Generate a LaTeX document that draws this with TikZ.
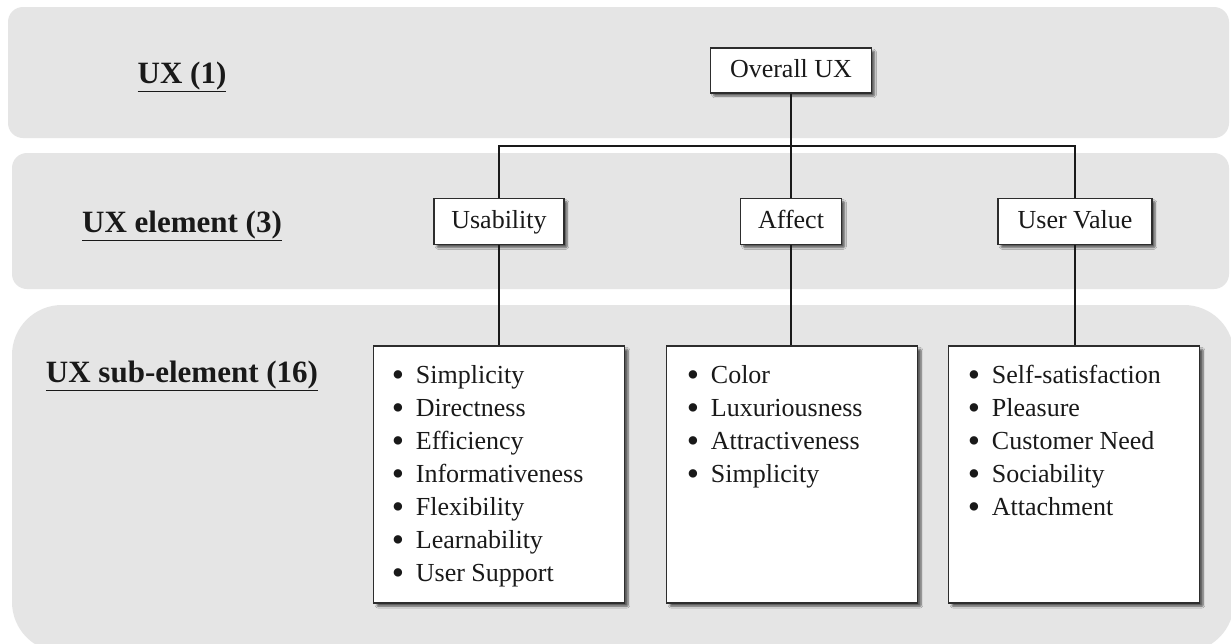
\documentclass[tikz,border=0pt]{standalone}
\usepackage{fontspec}
\setmainfont{Liberation Serif}
\usetikzlibrary{calc,shadows.blur}

\definecolor{bandgray}{RGB}{229,229,229}
\definecolor{edgegray}{RGB}{45,45,45}
\definecolor{inkblack}{RGB}{25,25,25}

\tikzset{
  band/.style={fill=bandgray, draw=none},
  levellabel/.style={font=\fontsize{31}{36}\selectfont\bfseries, text=inkblack, inner sep=0pt, anchor=base},
  elembox/.style={draw=edgegray, line width=1.6pt, fill=white, text=inkblack,
    font=\fontsize{26}{30}\selectfont, inner sep=0pt, text height=19pt, text depth=5pt,
    minimum height=46pt,
    blur shadow={shadow xshift=3pt, shadow yshift=-3pt, shadow blur steps=6, shadow blur extra rounding=1pt, shadow opacity=60}},
  listbox/.style={draw=edgegray, line width=1.6pt, fill=white, inner sep=0pt,
    minimum width=251pt, minimum height=257pt, anchor=north,
    blur shadow={shadow xshift=3.5pt, shadow yshift=-3.5pt, shadow blur steps=6, shadow blur extra rounding=1pt, shadow opacity=60}},
  listtext/.style={font=\fontsize{26}{33}\selectfont, text=inkblack, inner sep=0pt, anchor=base west},
  link/.style={draw=inkblack, line width=1.3pt}
}

% a slightly heavier list bullet, kept at mid x-height
\newcommand{\listdot}{\raisebox{-3pt}{\scalebox{1.35}{•}}}
\newcommand{\itemlist}[1]{\begin{tabular}[t]{@{}p{24pt}@{}l@{}}#1\end{tabular}}

\begin{document}
\begin{tikzpicture}[x=1pt, y=-1pt]
  \useasboundingbox (0,0) rectangle (1231,643);
  \fill[white] (0,0) rectangle (1231,643);

  % level bands
  \fill[band, rounded corners=15pt] (8,7) rectangle (1229,138);
  \fill[band, rounded corners=15pt] (12,153) rectangle (1229,289);
  \fill[band, rounded corners=50pt] (12,305) rectangle (1234,652);

  % level labels
  \node[levellabel] (lab1) at (182,83) {\underline{UX (1)}};
  \node[levellabel] (lab2) at (182,232) {\underline{UX element (3)}};
  \node[levellabel] (lab3) at (182,382) {\underline{UX sub-element (16)}};

  % hierarchy boxes
  \node[elembox, minimum width=161pt, minimum height=45pt] (overall) at (791,70.5) {Overall UX};
  \node[elembox, minimum width=130pt] (usab) at (499,221.5) {Usability};
  \node[elembox, minimum width=101pt] (affect) at (791,221.5) {Affect};
  \node[elembox, minimum width=154pt] (uval) at (1075,221.5) {User Value};

  \node[listbox] (usablist) at (499,345) {};
  \node[listbox] (affectlist) at (792,345) {};
  \node[listbox] (uvallist) at (1074,345) {};

  \node[listtext] (usabitems) at ($(usablist.north west)+(19,38)$)
    {\itemlist{\listdot&Simplicity\\ \listdot&Directness\\ \listdot&Efficiency\\ \listdot&Informativeness\\ \listdot&Flexibility\\ \listdot&Learnability\\ \listdot&User Support}};
  \node[listtext] (affectitems) at ($(affectlist.north west)+(21,38)$)
    {\itemlist{\listdot&Color\\ \listdot&Luxuriousness\\ \listdot&Attractiveness\\ \listdot&Simplicity}};
  \node[listtext] (uvalitems) at ($(uvallist.north west)+(20,38)$)
    {\itemlist{\listdot&Self-satisfaction\\ \listdot&Pleasure\\ \listdot&Customer Need\\ \listdot&Sociability\\ \listdot&Attachment}};

  % connectors
  \coordinate (hub) at (791,146);
  \draw[link] (overall.south) -- (hub);
  \draw[link] (usab.north) |- (hub) -| (uval.north);
  \draw[link] (affect.north) -- (hub);
  \draw[link] (usab.south) -- (usablist.north -| usab.south);
  \draw[link] (affect.south) -- (affectlist.north -| affect.south);
  \draw[link] (uval.south) -- (uvallist.north -| uval.south);
\end{tikzpicture}
\end{document}
